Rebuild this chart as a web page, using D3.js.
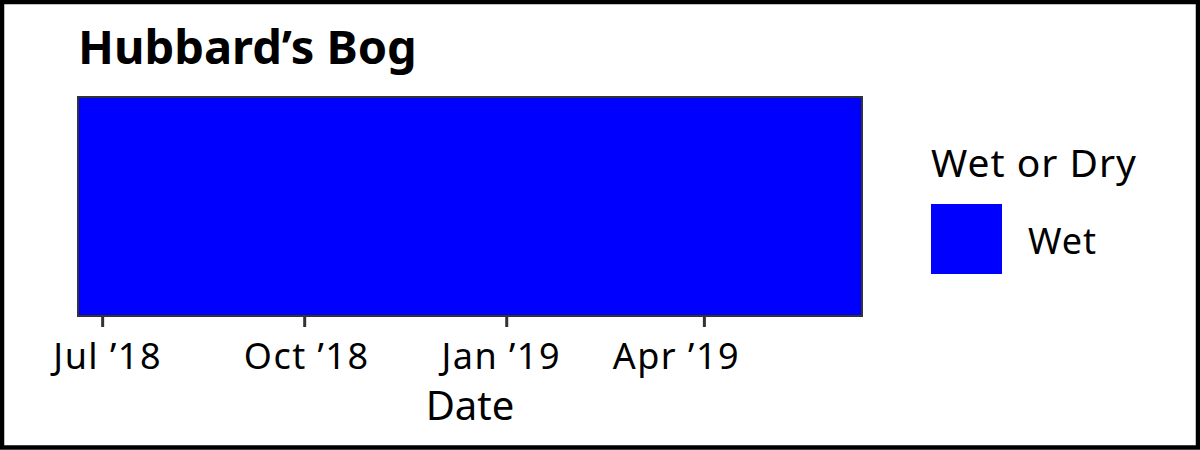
<!DOCTYPE html>
<html>
<head>
<meta charset="utf-8">
<script src="https://cdn.jsdelivr.net/npm/d3@7"></script>
<style>
  body { margin: 0; background: #fff; }
  text { font-family: "Noto Sans", "Open Sans", sans-serif; fill: #000; }
</style>
</head>
<body>
<svg id="chart" width="1200" height="450"></svg>
<script>
// wet/dry record, one tile per run of days
var tileStart = ["2018-06-20"];
var tileEnd   = ["2019-06-12"];
var wetDry    = ["Wet"];
var tickDates = ["2018-07-01", "2018-10-01", "2019-01-01", "2019-04-01"];
var categories = ["Wet"];
var catColours = ["#0000FF"];

var parse = d3.timeParse("%Y-%m-%d");
var W = 1200, H = 450;
var pLeft = 78, pRight = 862, pTop = 97, pBottom = 316;
// the labels in the original sit a bit off their ticks
var labelNudge = [5, 2, -5.5, -28];

var svg = d3.select("#chart");

svg.append("rect")
  .attr("x", 2).attr("y", 2)
  .attr("width", W - 4).attr("height", H - 4.5)
  .attr("fill", "#fff")
  .attr("stroke", "#000")
  .attr("stroke-width", 4.5);

var x = d3.scaleTime()
  .domain([parse(tileStart[0]), parse(tileEnd[tileEnd.length - 1])])
  .range([pLeft, pRight]);

var colour = d3.scaleOrdinal().domain(categories).range(catColours);

var tiles = tileStart.map(function(s, i) {
  return { s: parse(s), e: parse(tileEnd[i]), v: wetDry[i] };
});

svg.selectAll("rect.tile")
  .data(tiles)
  .enter().append("rect")
  .attr("class", "tile")
  .attr("x", function(d) { return x(d.s); })
  .attr("y", pTop)
  .attr("width", function(d) { return x(d.e) - x(d.s); })
  .attr("height", pBottom - pTop)
  .attr("fill", function(d) { return colour(d.v); });

// panel border
svg.append("rect")
  .attr("x", pLeft).attr("y", pTop)
  .attr("width", pRight - pLeft).attr("height", pBottom - pTop)
  .attr("fill", "none")
  .attr("stroke", "#333")
  .attr("stroke-width", 2);

var axis = d3.axisBottom(x)
  .tickValues(tickDates.map(parse))
  .tickFormat(d3.timeFormat("%b \u2019%y"))
  .tickSize(10)
  .tickPadding(16);

var gx = svg.append("g")
  .attr("transform", "translate(0," + (pBottom + 1) + ")")
  .call(axis);
gx.select(".domain").remove();
gx.selectAll(".tick line").attr("stroke", "#333").attr("stroke-width", 3);
gx.selectAll(".tick text")
  .attr("dx", function(d, i) { return labelNudge[i]; })
  .style("font-size", "36px")
  .style("letter-spacing", "1.5px")
  .attr("fill", "#000");

svg.append("text")
  .attr("x", (pLeft + pRight) / 2)
  .attr("y", 420)
  .attr("text-anchor", "middle")
  .style("font-size", "40px")
  .text("Date");

svg.append("text")
  .attr("x", pLeft)
  .attr("y", 64)
  .style("font-size", "47px")
  .style("font-weight", "bold")
  .text("Hubbard\u2019s Bog");

// legend
var lg = svg.append("g");
lg.append("text")
  .attr("x", 931)
  .attr("y", 177)
  .style("font-size", "39px")
  .style("letter-spacing", "1px")
  .text("Wet or Dry");

var items = lg.selectAll("g.item")
  .data(categories)
  .enter().append("g")
  .attr("class", "item")
  .attr("transform", function(d, i) { return "translate(931," + (204 + i * 72) + ")"; });
items.append("rect")
  .attr("width", 71).attr("height", 70)
  .attr("fill", function(d) { return colour(d); });
items.append("text")
  .attr("x", 97)
  .attr("y", 50)
  .style("font-size", "36px")
  .style("letter-spacing", "1px")
  .text(function(d) { return d; });
</script>
</body>
</html>
